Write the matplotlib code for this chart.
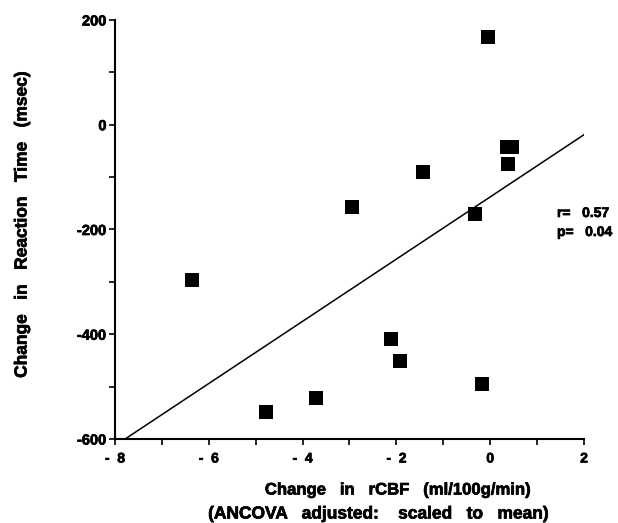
import numpy as np
import matplotlib.pyplot as plt
import matplotlib.patheffects as pe
from matplotlib.ticker import MultipleLocator

plt.rcParams["font.family"] = ["Liberation Sans", "DejaVu Sans"]
plt.rcParams["font.weight"] = "bold"

# Change in rCBF (ml/100g/min) vs change in reaction time (msec)
rcbf = [-0.05, 0.35, 0.46, 0.37, -1.43, -2.94, -0.32, -6.35, -2.12, -1.92, -0.17, -3.72, -4.77]
rt = [168, -42, -43, -75, -91, -157, -171, -297, -409, -451, -495, -522, -549]

x_ticks = [-8, -6, -4, -2, 0, 2]
x_ticklabels = ["-  8", "-  6", "-  4", "-  2", "0", "2"]
y_ticks = [-600, -400, -200, 0, 200]
y_ticklabels = ["-600", "-400", "-200", "0", "200"]

r_text = "r=   0.57"
p_text = "p=   0.04"

# slightly heavier strokes, the scan looks like a black weight
heavy = [pe.withStroke(linewidth=0.5, foreground="black")]


def main():
    fig = plt.figure(figsize=(6.18, 5.23), dpi=100)
    ax = fig.add_axes([0.186, 0.1606, 0.759, 0.8012])

    ax.scatter(rcbf, rt, marker="s", s=105, color="black", zorder=3, linewidths=0)

    # least squares line, drawn from the bottom of the axis to x=2
    slope, intercept = np.polyfit(rcbf, rt, 1)
    x0 = (-600 - intercept) / slope
    xs = np.array([x0, 2])
    ax.plot(xs, slope * xs + intercept, color="black", linewidth=1.1)

    ax.set_xlim(-8, 2)
    ax.set_ylim(-600, 200)
    ax.set_xticks(x_ticks)
    ax.set_xticklabels(x_ticklabels, fontsize=10, fontweight="bold")
    ax.set_yticks(y_ticks)
    ax.set_yticklabels(y_ticklabels, fontsize=10.5, fontweight="bold")
    ax.xaxis.set_minor_locator(MultipleLocator(1))
    ax.yaxis.set_minor_locator(MultipleLocator(100))
    ax.tick_params(which="both", direction="out", length=4, width=1.2, color="black")
    ax.tick_params(axis="x", which="both", pad=5)
    ax.tick_params(axis="y", which="both", pad=2)
    for lab in ax.get_xticklabels() + ax.get_yticklabels():
        lab.set_path_effects(heavy)

    for side in ["top", "right"]:
        ax.spines[side].set_visible(False)
    for side in ["left", "bottom"]:
        ax.spines[side].set_linewidth(1.5)

    fig.text(22 / 618, 1 - 224 / 523, "Change   in   Reaction   Time   (msec)",
             rotation=90, ha="center", va="center", fontsize=12.5,
             fontweight="bold", path_effects=heavy)
    fig.text(397 / 618, 1 - 490 / 523, "Change   in   rCBF   (ml/100g/min)",
             ha="center", va="center", fontsize=12, fontweight="bold",
             path_effects=heavy)
    fig.text(379 / 618, 1 - 514 / 523, "(ANCOVA   adjusted:    scaled   to   mean)",
             ha="center", va="center", fontsize=12.5, fontweight="bold",
             path_effects=heavy)

    fig.text(557 / 618, 1 - 213 / 523, r_text, ha="left", va="center",
             fontsize=10, fontweight="bold", path_effects=heavy)
    fig.text(557 / 618, 1 - 232 / 523, p_text, ha="left", va="center",
             fontsize=10, fontweight="bold", path_effects=heavy)

    fig.savefig("out.png", dpi=100)


if __name__ == "__main__":
    main()
